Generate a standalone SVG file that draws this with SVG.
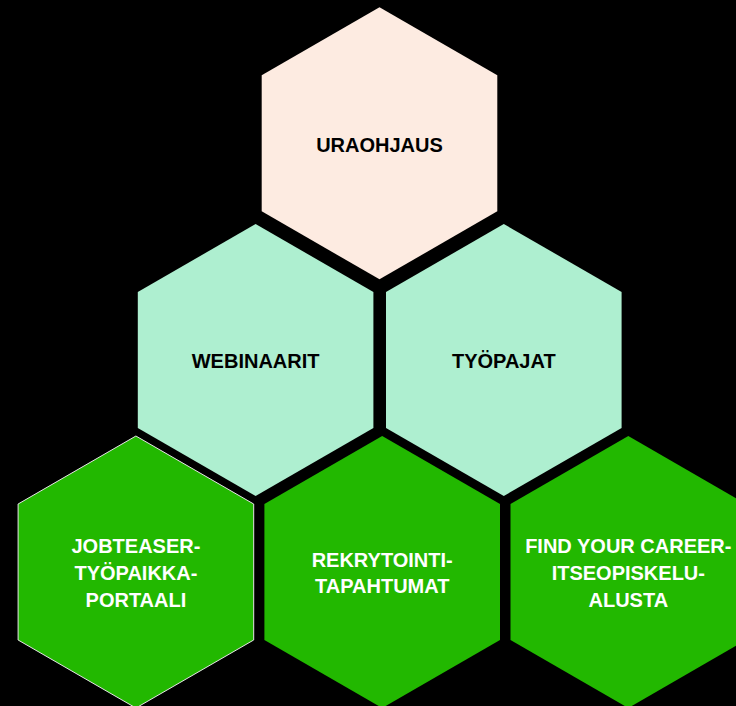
<svg xmlns="http://www.w3.org/2000/svg" xmlns:xlink="http://www.w3.org/1999/xlink" width="736" height="706" viewBox="0 0 736 706">
  <style>
    .lbl { font-family: "Liberation Sans", Arial, sans-serif; font-weight: bold; font-size: 20px; text-anchor: middle; }
    .dark { fill: #000000; }
    .light { fill: #ffffff; }
    .peach { fill: #fdebe1; }
    .mint { fill: #aeefd0; }
    .green { fill: #22b800; }
  </style>
  <defs>
    <polygon id="hex" points="0,-136 117.8,-68 117.8,68 0,136 -117.8,68 -117.8,-68"/>
  </defs>
  <rect x="0" y="0" width="736" height="706" fill="#000000"/>
  <g id="connectors"></g>
  <g id="uraohjaus" transform="translate(379.5,143.3)">
    <use xlink:href="#hex" class="peach"/>
    <text class="lbl dark" x="0" y="8.3">URAOHJAUS</text>
  </g>
  <g id="webinaarit" transform="translate(255.6,360)">
    <use xlink:href="#hex" class="mint"/>
    <text class="lbl dark" x="0" y="8.3">WEBINAARIT</text>
  </g>
  <g id="tyopajat" transform="translate(503.8,360)">
    <use xlink:href="#hex" class="mint"/>
    <text class="lbl dark" x="0" y="8.3">TYÖPAJAT</text>
  </g>
  <g id="jobteaser" transform="translate(135.9,572)">
    <use xlink:href="#hex" class="green" stroke="#e6e6e6" stroke-width="1"/>
    <text class="lbl light" x="0" y="-18.7">JOBTEASER-</text>
    <text class="lbl light" x="0" y="8">TYÖPAIKKA-</text>
    <text class="lbl light" x="0" y="34.7">PORTAALI</text>
  </g>
  <g id="rekrytointi" transform="translate(382.2,572)">
    <use xlink:href="#hex" class="green"/>
    <text class="lbl light" x="0" y="-5.3">REKRYTOINTI-</text>
    <text class="lbl light" x="0" y="21.3">TAPAHTUMAT</text>
  </g>
  <g id="findyourcareer" transform="translate(628.3,572)">
    <use xlink:href="#hex" class="green"/>
    <text class="lbl light" x="0" y="-18.7">FIND YOUR CAREER-</text>
    <text class="lbl light" x="0" y="8">ITSEOPISKELU-</text>
    <text class="lbl light" x="0" y="34.7">ALUSTA</text>
  </g>
</svg>
